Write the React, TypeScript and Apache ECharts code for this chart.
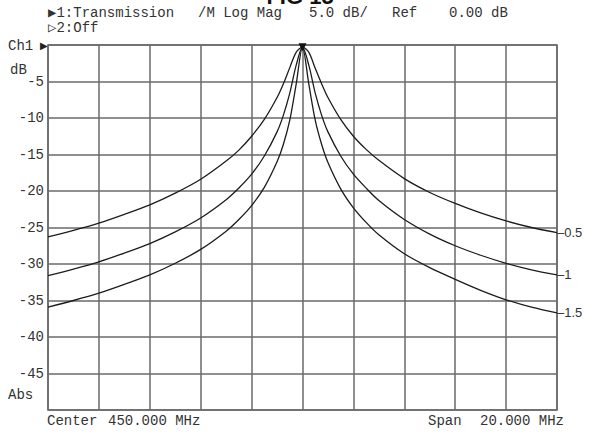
import React, { useEffect, useRef } from "react";
import * as echarts from "echarts";

// Frequency samples (MHz), center 450 MHz, span 20 MHz
const freqMHz = [
  440, 441, 442, 443, 444, 445, 446, 447, 447.5, 448, 448.5, 449, 449.25, 449.5, 449.75,
  450,
  450.25, 450.5, 450.75, 451, 451.5, 452, 452.5, 453, 454, 455, 456, 457, 458, 459, 460,
];

// Transmission (dB) for the three traces
const trace05 = [
  -26.3, -25.4, -24.4, -23.2, -21.9, -20.3, -18.4, -15.9, -14.4, -12.5, -10.2, -7.2, -5.3, -3.1, -1.0,
  -0.3,
  -1.0, -3.2, -5.3, -7.2, -10.2, -12.5, -14.3, -15.8, -18.3, -20.2, -21.7, -23.0, -24.1, -25.0, -25.7,
];
const trace10 = [
  -31.6, -30.7, -29.7, -28.5, -27.2, -25.6, -23.7, -21.2, -19.6, -17.7, -15.2, -11.9, -9.6, -6.6, -2.8,
  -0.3,
  -2.8, -6.6, -9.6, -11.9, -15.2, -17.7, -19.6, -21.3, -23.9, -25.9, -27.5, -28.8, -29.9, -30.8, -31.5,
];
const trace15 = [
  -35.9, -35.0, -34.0, -32.8, -31.5, -29.9, -28.0, -25.5, -23.9, -22.0, -19.5, -16.0, -13.6, -10.3, -5.4,
  -0.3,
  -5.4, -10.3, -13.6, -16.1, -19.7, -22.3, -24.3, -26.0, -28.6, -30.5, -32.1, -33.6, -34.9, -35.9, -36.7,
];
const traceLabels = ["0.5", "1", "1.5"];

// Axis ticks
const yMin = -50;
const yMax = 0;
const yStep = 5;
const xMin = 440;
const xMax = 460;
const xStep = 2;

const MONO = "'Liberation Mono', 'DejaVu Sans Mono', monospace";

export default function App() {
  const ref = useRef<HTMLDivElement>(null);

  useEffect(() => {
    if (!ref.current) return;
    const chart = echarts.init(ref.current, null, { renderer: "svg" });

    const mkSeries = (label: string, values: number[], withMarker: boolean) => ({
      type: "line",
      name: label,
      data: freqMHz.map((f, i) => [f, values[i]]),
      showSymbol: false,
      smooth: 0.3,
      lineStyle: { color: "#1c1c1c", width: 1.3 },
      endLabel: {
        show: true,
        distance: 0,
        formatter: "–" + label,
        fontFamily: "'Liberation Sans', Arial, sans-serif",
        fontSize: 13,
        color: "#333",
      },
      markPoint: withMarker
        ? {
            symbol: "triangle",
            symbolSize: [8, 8],
            symbolRotate: 180,
            itemStyle: { color: "#111" },
            label: { show: false },
            data: [{ coord: [450, trace05[15]] }],
          }
        : undefined,
      z: 3,
    });

    const txt = (
      text: string,
      x: number,
      y: number,
      opts: Record<string, unknown> = {}
    ) => ({
      type: "text",
      x,
      y,
      silent: true,
      style: {
        text,
        font: "14px " + MONO,
        fill: "#333",
        align: "left",
        verticalAlign: "middle",
        ...opts,
      },
    });

    chart.setOption({
      animation: false,
      backgroundColor: "#ffffff",
      grid: {
        left: 48,
        top: 45,
        width: 509,
        height: 365,
        show: true,
        borderColor: "#666",
        borderWidth: 1.5,
        containLabel: false,
      },
      xAxis: {
        type: "value",
        min: xMin,
        max: xMax,
        interval: xStep,
        axisLine: { show: false },
        axisTick: { show: false },
        axisLabel: { show: false },
        splitLine: { show: true, lineStyle: { color: "#6a6a6a", width: 1.5 } },
      },
      yAxis: {
        type: "value",
        min: yMin,
        max: yMax,
        interval: yStep,
        axisLine: { show: false },
        axisTick: { show: false },
        axisLabel: {
          margin: 4,
          fontFamily: MONO,
          fontSize: 14,
          color: "#333",
          formatter: (v: number) => (v === yMin || v === yMax ? "" : String(v)),
        },
        splitLine: { show: true, lineStyle: { color: "#6a6a6a", width: 1.5 } },
      },
      series: [
        mkSeries(traceLabels[0], trace05, true),
        mkSeries(traceLabels[1], trace10, false),
        mkSeries(traceLabels[2], trace15, false),
      ],
      graphic: [
        {
          type: "text",
          x: 300,
          y: 7,
          silent: true,
          style: {
            text: "FIG 15",
            font: "bold 22px 'Liberation Sans', Arial, sans-serif",
            fill: "#111",
            align: "center",
            verticalAlign: "bottom",
          },
        },
        txt("▶1:Transmission", 48, 13),
        txt("/M Log Mag", 198, 13),
        txt("5.0 dB/", 309, 13),
        txt("Ref", 392, 13),
        txt("0.00 dB", 449, 13),
        txt("▷2:Off", 48, 28),
        txt("Ch1", 8, 46),
        txt("▶", 40, 45, { font: "10px 'DejaVu Sans', sans-serif", fill: "#222" }),
        txt("dB", 10, 70),
        txt("Abs", 8, 395),
        txt("Center", 47, 421),
        txt("450.000 MHz", 108, 421),
        txt("Span", 428, 421),
        txt("20.000 MHz", 564, 421, { align: "right" }),
      ],
    });

    return () => {
      chart.dispose();
    };
  }, []);

  return (
    <div
      ref={ref}
      style={{ position: "absolute", left: 0, top: 0, width: 592, height: 432 }}
    />
  );
}
